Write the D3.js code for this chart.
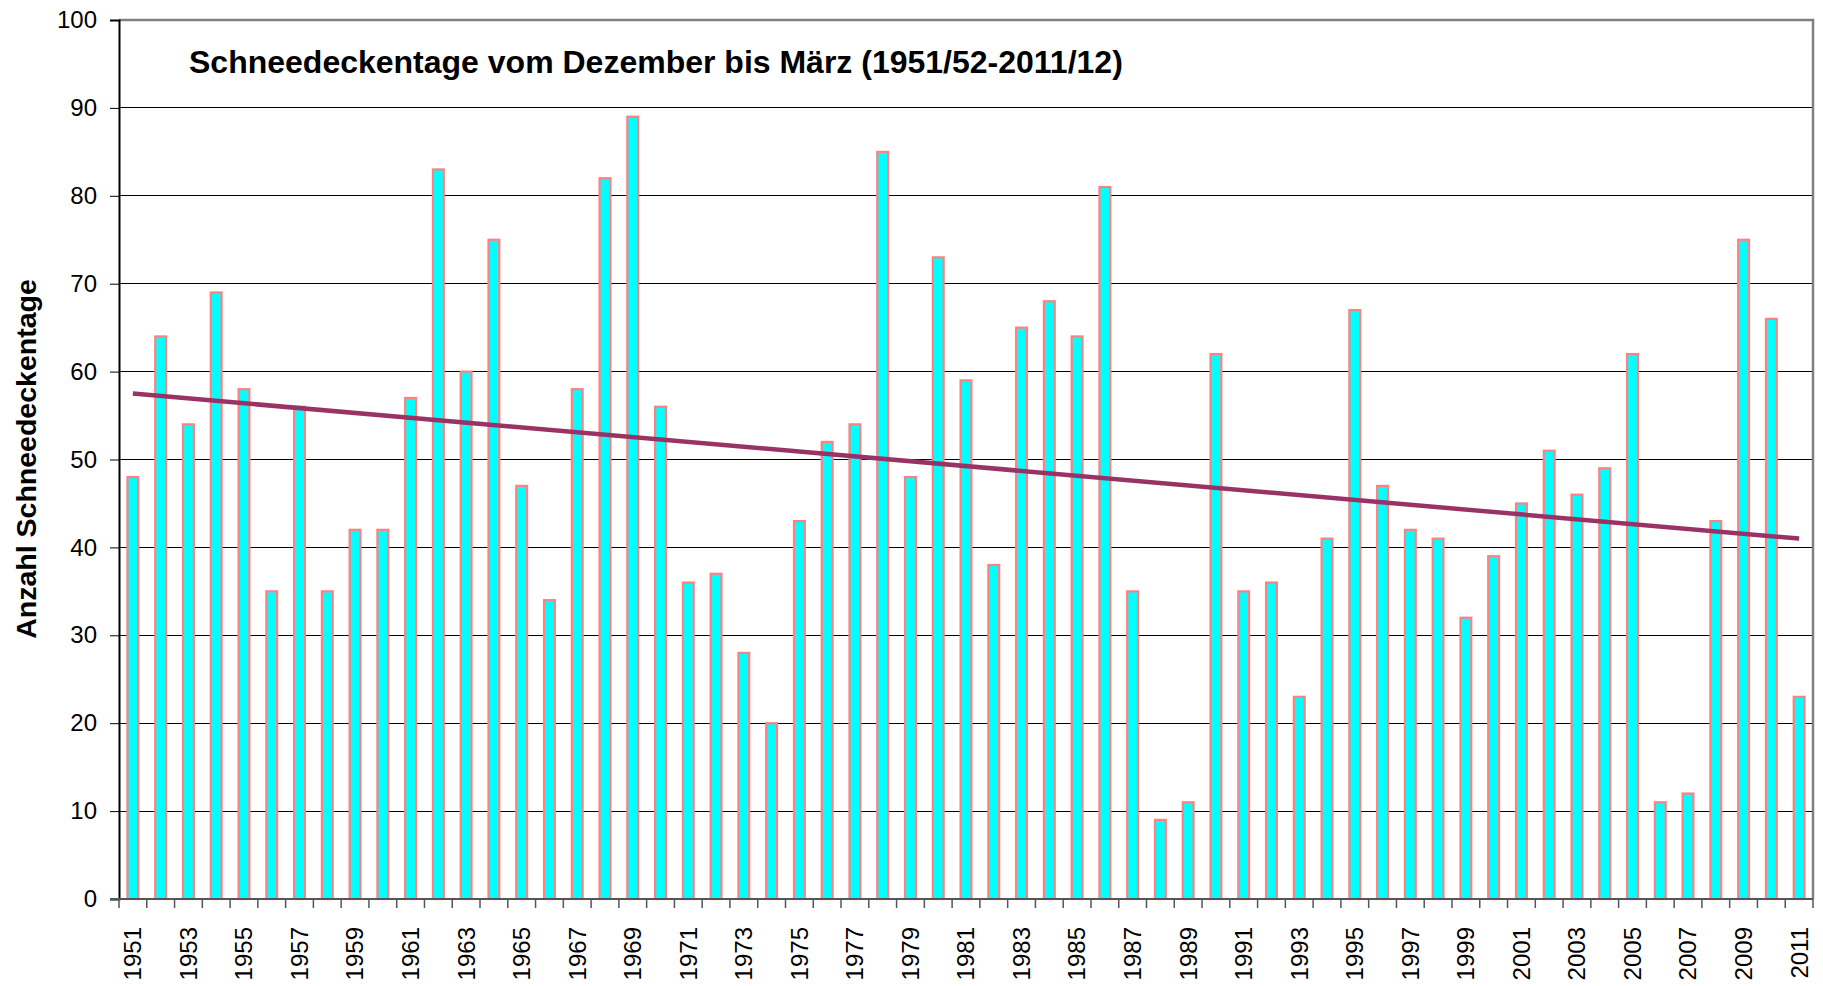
<!DOCTYPE html>
<html lang="de">
<head>
    <meta charset="UTF-8">
    <title>Schneedeckentage</title>
    <style>
        body { margin: 0; background: #fff; }
        svg { display: block; font-family: "Liberation Sans", Arial, sans-serif; }
        .tick-label { font-size: 24px; fill: #000; }
        .chart-title { font-size: 32px; font-weight: bold; }
        .axis-title { font-size: 28.5px; font-weight: bold; }
    </style>
</head>
<body>
    <div id="chart"></div>
    <script src="https://d3js.org/d3.v7.min.js"></script>
    <script>
        // Winter (Dez-Maerz) beginning in year
        const years = d3.range(1951, 2012);
        const snowDays = [
            48, 64, 54, 69, 58, 35, 56, 35, 42, 42,
            57, 83, 60, 75, 47, 34, 58, 82, 89, 56,
            36, 37, 28, 20, 43, 52, 54, 85, 48, 73,
            59, 38, 65, 68, 64, 81, 35, 9, 11, 62,
            35, 36, 23, 41, 67, 47, 42, 41, 32, 39,
            45, 51, 46, 49, 62, 11, 12, 43, 75, 66,
            23
        ];
        // linear trend as drawn in the chart (first / last winter)
        const trendYears = [1951, 2011];
        const trendValues = [57.5, 41.0];
        const yTicks = [0, 10, 20, 30, 40, 50, 60, 70, 80, 90, 100];
        const labelYears = years.filter((d, i) => i % 2 === 0);

        const title = "Schneedeckentage vom Dezember bis März (1951/52-2011/12)";
        const yTitle = "Anzahl Schneedeckentage";

        const W = 1823, H = 986;
        const plot = { left: 119, right: 1813, top: 20, bottom: 899 };

        const svg = d3.select("#chart")
            .append("svg")
            .attr("width", W)
            .attr("height", H);

        const x = d3.scaleBand()
            .domain(years)
            .range([plot.left, plot.right])
            .padding(0);

        const y = d3.scaleLinear()
            .domain([0, 100])
            .range([plot.bottom, plot.top]);

        const barW = x.bandwidth() * 0.39;

        // gridlines
        svg.append("g")
            .attr("shape-rendering", "crispEdges")
            .selectAll("line")
            .data(yTicks.filter(d => d > 0 && d < 100))
            .join("line")
            .attr("x1", plot.left)
            .attr("x2", plot.right)
            .attr("y1", d => y(d))
            .attr("y2", d => y(d))
            .attr("stroke", "#000")
            .attr("stroke-width", 1);

        // plot border (top / right)
        svg.append("path")
            .attr("d", `M${plot.left},${y(100)}H${plot.right}V${y(0)}`)
            .attr("fill", "none")
            .attr("stroke", "#808080")
            .attr("stroke-width", 2.5);

        // bars
        svg.append("g")
            .selectAll("rect")
            .data(years)
            .join("rect")
            .attr("x", d => x(d) + (x.bandwidth() - barW) / 2)
            .attr("y", (d, i) => y(snowDays[i]))
            .attr("width", barW)
            .attr("height", (d, i) => y(0) - y(snowDays[i]))
            .attr("fill", "#00FFFF")
            .attr("stroke", "#FF8080")
            .attr("stroke-width", 2.2);

        // trend line
        const line = d3.line()
            .x(d => x(d[0]) + x.bandwidth() / 2)
            .y(d => y(d[1]));

        svg.append("path")
            .datum(trendYears.map((d, i) => [d, trendValues[i]]))
            .attr("fill", "none")
            .attr("stroke", "#993366")
            .attr("stroke-width", 4.5)
            .attr("d", line);

        // y axis
        const yAxis = svg.append("g")
            .attr("transform", `translate(${plot.left},0)`)
            .call(d3.axisLeft(y).tickValues(yTicks).tickSize(9).tickPadding(13));
        yAxis.select(".domain").attr("stroke", "#000").attr("stroke-width", 2);
        yAxis.selectAll(".tick line").attr("stroke", "#000");
        yAxis.selectAll(".tick text")
            .attr("class", "tick-label")
            .attr("font-family", null)
            .attr("font-size", null);

        // x axis: ticks between categories, labels every 2nd year
        const xAxis = svg.append("g");
        xAxis.append("line")
            .attr("x1", plot.left - 9)
            .attr("x2", plot.right)
            .attr("y1", y(0))
            .attr("y2", y(0))
            .attr("stroke", "#555")
            .attr("stroke-width", 2);

        xAxis.selectAll("line.xtick")
            .data(years.concat([null]))
            .join("line")
            .attr("class", "xtick")
            .attr("x1", d => d === null ? plot.right : x(d))
            .attr("x2", d => d === null ? plot.right : x(d))
            .attr("y1", y(0))
            .attr("y2", y(0) + 9)
            .attr("stroke", "#555")
            .attr("stroke-width", 1.5);

        xAxis.selectAll("text")
            .data(labelYears)
            .join("text")
            .attr("class", "tick-label")
            .attr("text-anchor", "end")
            .attr("transform", d => `translate(${x(d) + x.bandwidth() / 2},${y(0) + 28}) rotate(-90)`)
            .attr("dy", "0.35em")
            .text(d => d);

        // titles
        svg.append("text")
            .attr("class", "chart-title")
            .attr("x", 189)
            .attr("y", 73)
            .text(title);

        svg.append("text")
            .attr("class", "axis-title")
            .attr("text-anchor", "middle")
            .attr("transform", `translate(26,459) rotate(-90)`)
            .attr("dy", "0.35em")
            .text(yTitle);
    </script>
</body>
</html>
